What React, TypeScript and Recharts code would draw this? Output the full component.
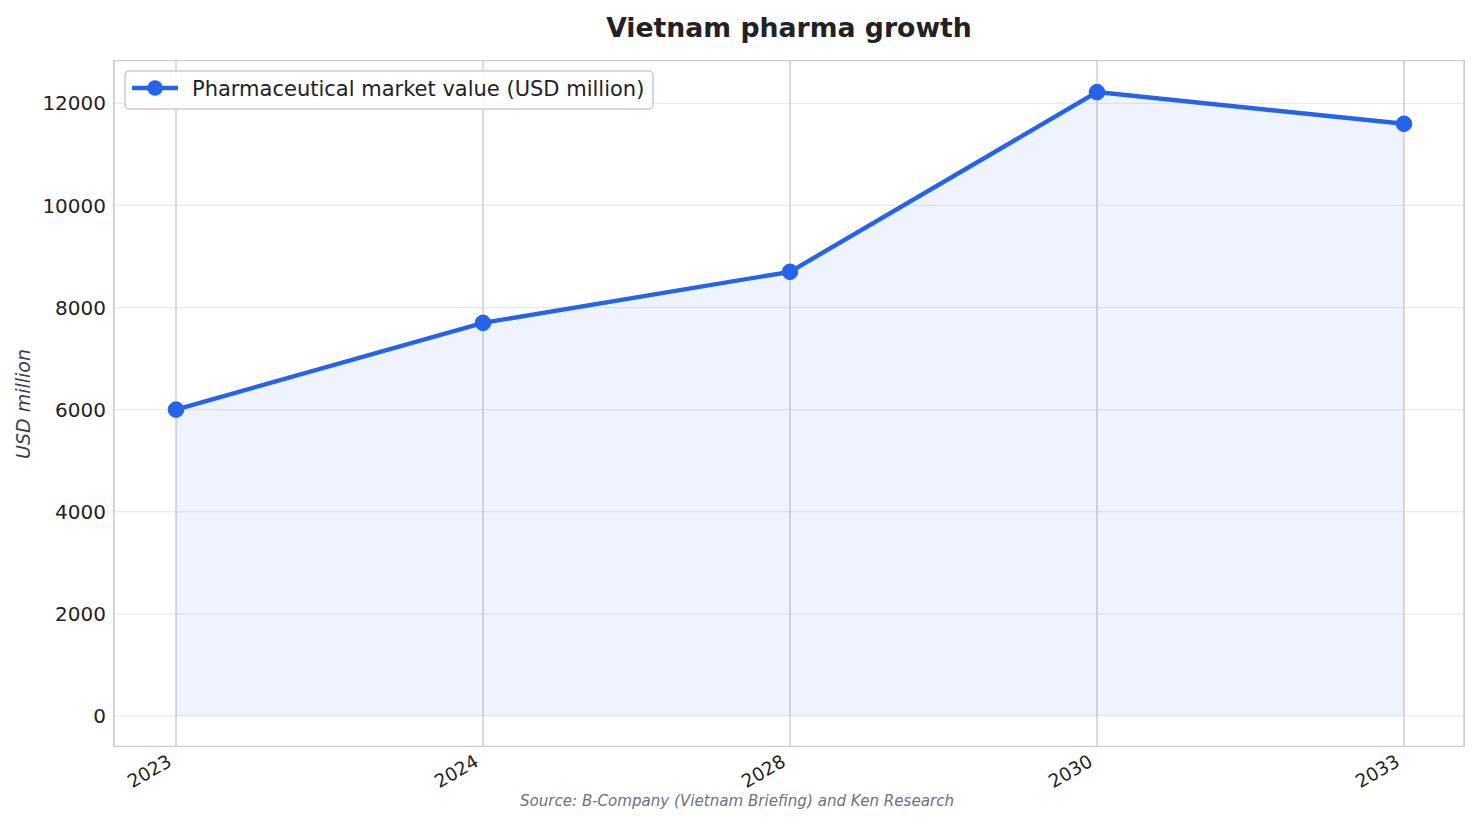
import { Area, CartesianGrid, ComposedChart, Line, XAxis, YAxis } from 'recharts'

const years = ['2023', '2024', '2028', '2030', '2033']
const marketValue = [6000, 7700, 8700, 12220, 11600]
const yTicks = [0, 2000, 4000, 6000, 8000, 10000, 12000]

const seriesName = 'Pharmaceutical market value (USD million)'
const BLUE = '#2563eb'
const FONT = 'DejaVu Sans'

const data = years.map((year, i) => ({ year, value: marketValue[i] }))

function YearTick(props: any) {
  const { x, y, payload } = props
  const tx = x - 3
  const ty = y + 19
  return (
    <text
      x={tx}
      y={ty}
      transform={`rotate(-30 ${tx} ${ty})`}
      textAnchor="end"
      fontSize={18.5}
      fontFamily={FONT}
      fill="#222"
    >
      {payload.value}
    </text>
  )
}

export default function App() {
  return (
    <div style={{ position: 'absolute', left: 0, top: 0, width: 1480, height: 824, background: '#fff' }}>
      <ComposedChart
        width={1480}
        height={824}
        data={data}
        margin={{ top: 61, right: 16, bottom: 0, left: 0 }}
      >
        <CartesianGrid horizontal vertical={false} stroke="#ebebeb" strokeWidth={1.2} />
        <CartesianGrid horizontal={false} vertical stroke="#cfcfcf" strokeWidth={1.5} />
        <XAxis
          dataKey="year"
          height={78}
          padding={{ left: 62, right: 60 }}
          axisLine={false}
          tickLine={false}
          tickSize={0}
          tickMargin={0}
          interval={0}
          tick={<YearTick />}
        />
        <YAxis
          width={114}
          domain={[-590, 12830]}
          ticks={yTicks}
          axisLine={false}
          tickLine={false}
          tickSize={0}
          tickMargin={8}
          tick={{ fontSize: 20, fill: '#222', fontFamily: FONT }}
        />
        <Area
          type="linear"
          dataKey="value"
          baseValue={0}
          stroke="none"
          fill={BLUE}
          fillOpacity={0.08}
          isAnimationActive={false}
          legendType="none"
        />
        <Line
          type="linear"
          dataKey="value"
          name={seriesName}
          stroke={BLUE}
          strokeWidth={4.4}
          dot={{ r: 7.8, fill: BLUE, stroke: BLUE, strokeWidth: 1 }}
          activeDot={false}
          isAnimationActive={false}
        />
      </ComposedChart>

      <div
        style={{
          position: 'absolute',
          left: 113,
          top: 60,
          width: 1352,
          height: 687,
          border: '1.5px solid #cccccc',
          boxSizing: 'border-box',
          pointerEvents: 'none',
        }}
      />

      <svg
        width={1480}
        height={824}
        style={{ position: 'absolute', left: 0, top: 0, pointerEvents: 'none' }}
        fontFamily={FONT}
      >
        <text x={789} y={37} textAnchor="middle" fontSize={26.7} fontWeight="bold" fill="#222">
          Vietnam pharma growth
        </text>

        <text
          x={30}
          y={404}
          transform="rotate(-90 30 404)"
          textAnchor="middle"
          fontSize={19}
          fontStyle="italic"
          fill="#374151"
        >
          USD million
        </text>

        <text x={737} y={806} textAnchor="middle" fontSize={15.1} fontStyle="italic" fill="#6b7280">
          Source: B-Company (Vietnam Briefing) and Ken Research
        </text>

        <rect x={125} y={71} width={528} height={38} rx={4} fill="#fff" fillOpacity={0.85} stroke="#cccccc" strokeWidth={1.5} />
        <line x1={132} y1={88} x2={178} y2={88} stroke={BLUE} strokeWidth={4.4} />
        <circle cx={155} cy={88} r={7.8} fill={BLUE} />
        <text x={192} y={96} fontSize={21} fill="#222">
          {seriesName}
        </text>
      </svg>
    </div>
  )
}
